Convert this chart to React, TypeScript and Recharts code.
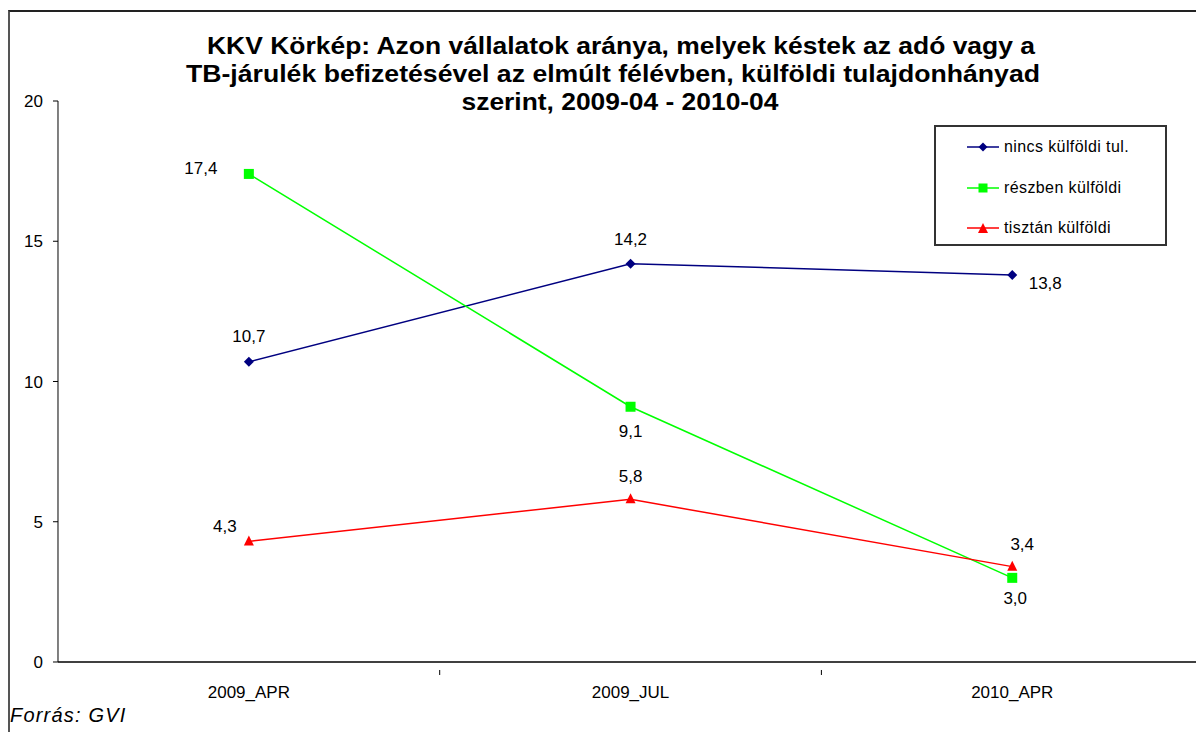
import React from "react";
import { LineChart, Line, XAxis, YAxis, LabelList } from "recharts";

const categories = ["2009_APR", "2009_JUL", "2010_APR"];
const nincsKulfoldi = [10.7, 14.2, 13.8];
const reszbenKulfoldi = [17.4, 9.1, 3.0];
const tisztanKulfoldi = [4.3, 5.8, 3.4];
const yTicks = [0, 5, 10, 15, 20];

const titleLines = [
  "KKV Körkép: Azon vállalatok aránya, melyek késtek az adó vagy a",
  "TB-járulék befizetésével az elmúlt félévben, külföldi tulajdonhányad",
  "szerint, 2009-04 - 2010-04",
];

const data = categories.map((cat, i) => ({
  cat,
  nincs: nincsKulfoldi[i],
  reszben: reszbenKulfoldi[i],
  tisztan: tisztanKulfoldi[i],
}));

const FONT = "'Liberation Sans', Arial, sans-serif";
const PLOT_LEFT = 58;
const PLOT_TOP = 101;
const PLOT_BOTTOM = 662;
const BAND = 381.7;
const PLOT_W = BAND * categories.length;
const X_AXIS_H = 40;

const NAVY = "#000080";
const GREEN = "#00FF00";
const RED = "#FF0000";

// label offsets (dx, dy) relative to each point
const navyLabelPos = [[0, -25], [0, -24], [33, 9]];
const greenLabelPos = [[-48, -5], [0, 25], [3, 21]];
const redLabelPos = [[-24, -15], [0, -23], [10, -22]];

const fmt = (v: number) => v.toFixed(1).replace(".", ",");

function Diamond({ cx, cy, color, s = 5 }: any) {
  return <polygon points={`${cx},${cy - s} ${cx + s},${cy} ${cx},${cy + s} ${cx - s},${cy}`} fill={color} />;
}
function Square({ cx, cy, color, s = 5 }: any) {
  return <rect x={cx - s} y={cy - s} width={s * 2} height={s * 2} fill={color} />;
}
function Triangle({ cx, cy, color, s = 5 }: any) {
  return <polygon points={`${cx},${cy - s - 1} ${cx + s},${cy + s - 1} ${cx - s},${cy + s - 1}`} fill={color} />;
}

const makeLabel = (pos: number[][]) => (props: any) => {
  const { x, y, value, index } = props;
  const [dx, dy] = pos[index] || [0, -20];
  return (
    <text
      x={x + dx}
      y={y + dy}
      textAnchor="middle"
      dominantBaseline="central"
      fontSize={17}
      fontFamily={FONT}
      fill="#000"
    >
      {fmt(value)}
    </text>
  );
};

function XTick(props: any) {
  const { x, y, payload } = props;
  const right = x + BAND / 2;
  return (
    <g>
      <line x1={right} y1={y} x2={right} y2={y + 5} stroke="#000" strokeWidth={1} />
      <text x={x} y={y + 28} textAnchor="middle" fontSize={17} fontFamily={FONT} fill="#000">
        {payload.value}
      </text>
    </g>
  );
}

const legendItems = [
  { label: "nincs külföldi tul.", color: NAVY, shape: "diamond" },
  { label: "részben külföldi", color: GREEN, shape: "square" },
  { label: "tisztán külföldi", color: RED, shape: "triangle" },
];

function LegendBox() {
  return (
    <div
      style={{
        position: "absolute",
        left: 934,
        top: 125,
        width: 233,
        height: 121,
        border: "2px solid #333",
        boxSizing: "border-box",
        background: "#fff",
        fontFamily: FONT,
        fontSize: 16,
      }}
    >
      {legendItems.map((it) => (
        <div key={it.label} style={{ display: "flex", alignItems: "center", height: 40.5 }}>
          <svg width={66} height={14} style={{ flex: "none" }}>
            <line x1={31} y1={7} x2={63} y2={7} stroke={it.color} strokeWidth={1.5} />
            {it.shape === "diamond" && <Diamond cx={47} cy={7} color={it.color} s={4.5} />}
            {it.shape === "square" && <Square cx={47} cy={7} color={it.color} s={4.5} />}
            {it.shape === "triangle" && <Triangle cx={47} cy={8} color={it.color} s={5} />}
          </svg>
          <span style={{ marginLeft: 2, whiteSpace: "nowrap", letterSpacing: 0.4 }}>{it.label}</span>
        </div>
      ))}
    </div>
  );
}

export default function App() {
  const chartW = PLOT_LEFT + PLOT_W + 12;
  const chartH = PLOT_BOTTOM + X_AXIS_H;
  return (
    <div
      style={{
        position: "fixed",
        left: 0,
        top: 0,
        width: 1196,
        height: 732,
        overflow: "hidden",
        background: "#fff",
      }}
    >
      <div
        style={{
          position: "absolute",
          left: 8,
          top: 10,
          width: 2000,
          height: 2000,
          borderLeft: "2px solid #555",
          borderTop: "2px solid #222",
        }}
      />
      <svg style={{ position: "absolute", left: 0, top: 0 }} width={1196} height={120}>
        <text x={621} y={54} textAnchor="middle" fontFamily={FONT} fontWeight="bold" fontSize={24} textLength={828} lengthAdjust="spacingAndGlyphs">
          {titleLines[0]}
        </text>
        <text x={613} y={82} textAnchor="middle" fontFamily={FONT} fontWeight="bold" fontSize={24} textLength={854} lengthAdjust="spacingAndGlyphs">
          {titleLines[1]}
        </text>
        <text x={620} y={110} textAnchor="middle" fontFamily={FONT} fontWeight="bold" fontSize={24} textLength={317} lengthAdjust="spacingAndGlyphs">
          {titleLines[2]}
        </text>
      </svg>
      <div style={{ position: "absolute", left: 0, top: 0 }}>
        <LineChart
          width={chartW}
          height={chartH}
          data={data}
          margin={{ top: PLOT_TOP, right: 12, bottom: 0, left: 0 }}
        >
          <XAxis
            dataKey="cat"
            height={X_AXIS_H}
            padding={{ left: BAND / 2, right: BAND / 2 }}
            axisLine={{ stroke: "#000", strokeWidth: 1.5 }}
            tickLine={false}
            tick={<XTick />}
            interval={0}
          />
          <YAxis
            width={PLOT_LEFT}
            domain={[0, 20]}
            ticks={yTicks}
            interval={0}
            axisLine={{ stroke: "#000", strokeWidth: 1 }}
            tickLine={{ stroke: "#000" }}
            tickSize={5}
            tickMargin={10}
            tick={{ fontSize: 17, fontFamily: FONT, fill: "#000" }}
          />
          <Line
            dataKey="nincs"
            stroke={NAVY}
            strokeWidth={1.5}
            isAnimationActive={false}
            dot={(p: any) => <Diamond key={`d${p.index}`} cx={p.cx} cy={p.cy} color={NAVY} />}
          >
            <LabelList dataKey="nincs" content={makeLabel(navyLabelPos)} />
          </Line>
          <Line
            dataKey="reszben"
            stroke={GREEN}
            strokeWidth={1.5}
            isAnimationActive={false}
            dot={(p: any) => <Square key={`s${p.index}`} cx={p.cx} cy={p.cy} color={GREEN} />}
          >
            <LabelList dataKey="reszben" content={makeLabel(greenLabelPos)} />
          </Line>
          <Line
            dataKey="tisztan"
            stroke={RED}
            strokeWidth={1.5}
            isAnimationActive={false}
            dot={(p: any) => <Triangle key={`t${p.index}`} cx={p.cx} cy={p.cy} color={RED} />}
          >
            <LabelList dataKey="tisztan" content={makeLabel(redLabelPos)} />
          </Line>
        </LineChart>
      </div>
      <LegendBox />
      <div
        style={{
          position: "absolute",
          left: 10,
          top: 704,
          fontFamily: FONT,
          fontStyle: "italic",
          fontSize: 20,
          letterSpacing: 1.2,
          color: "#000",
        }}
      >
        Forrás: GVI
      </div>
    </div>
  );
}
